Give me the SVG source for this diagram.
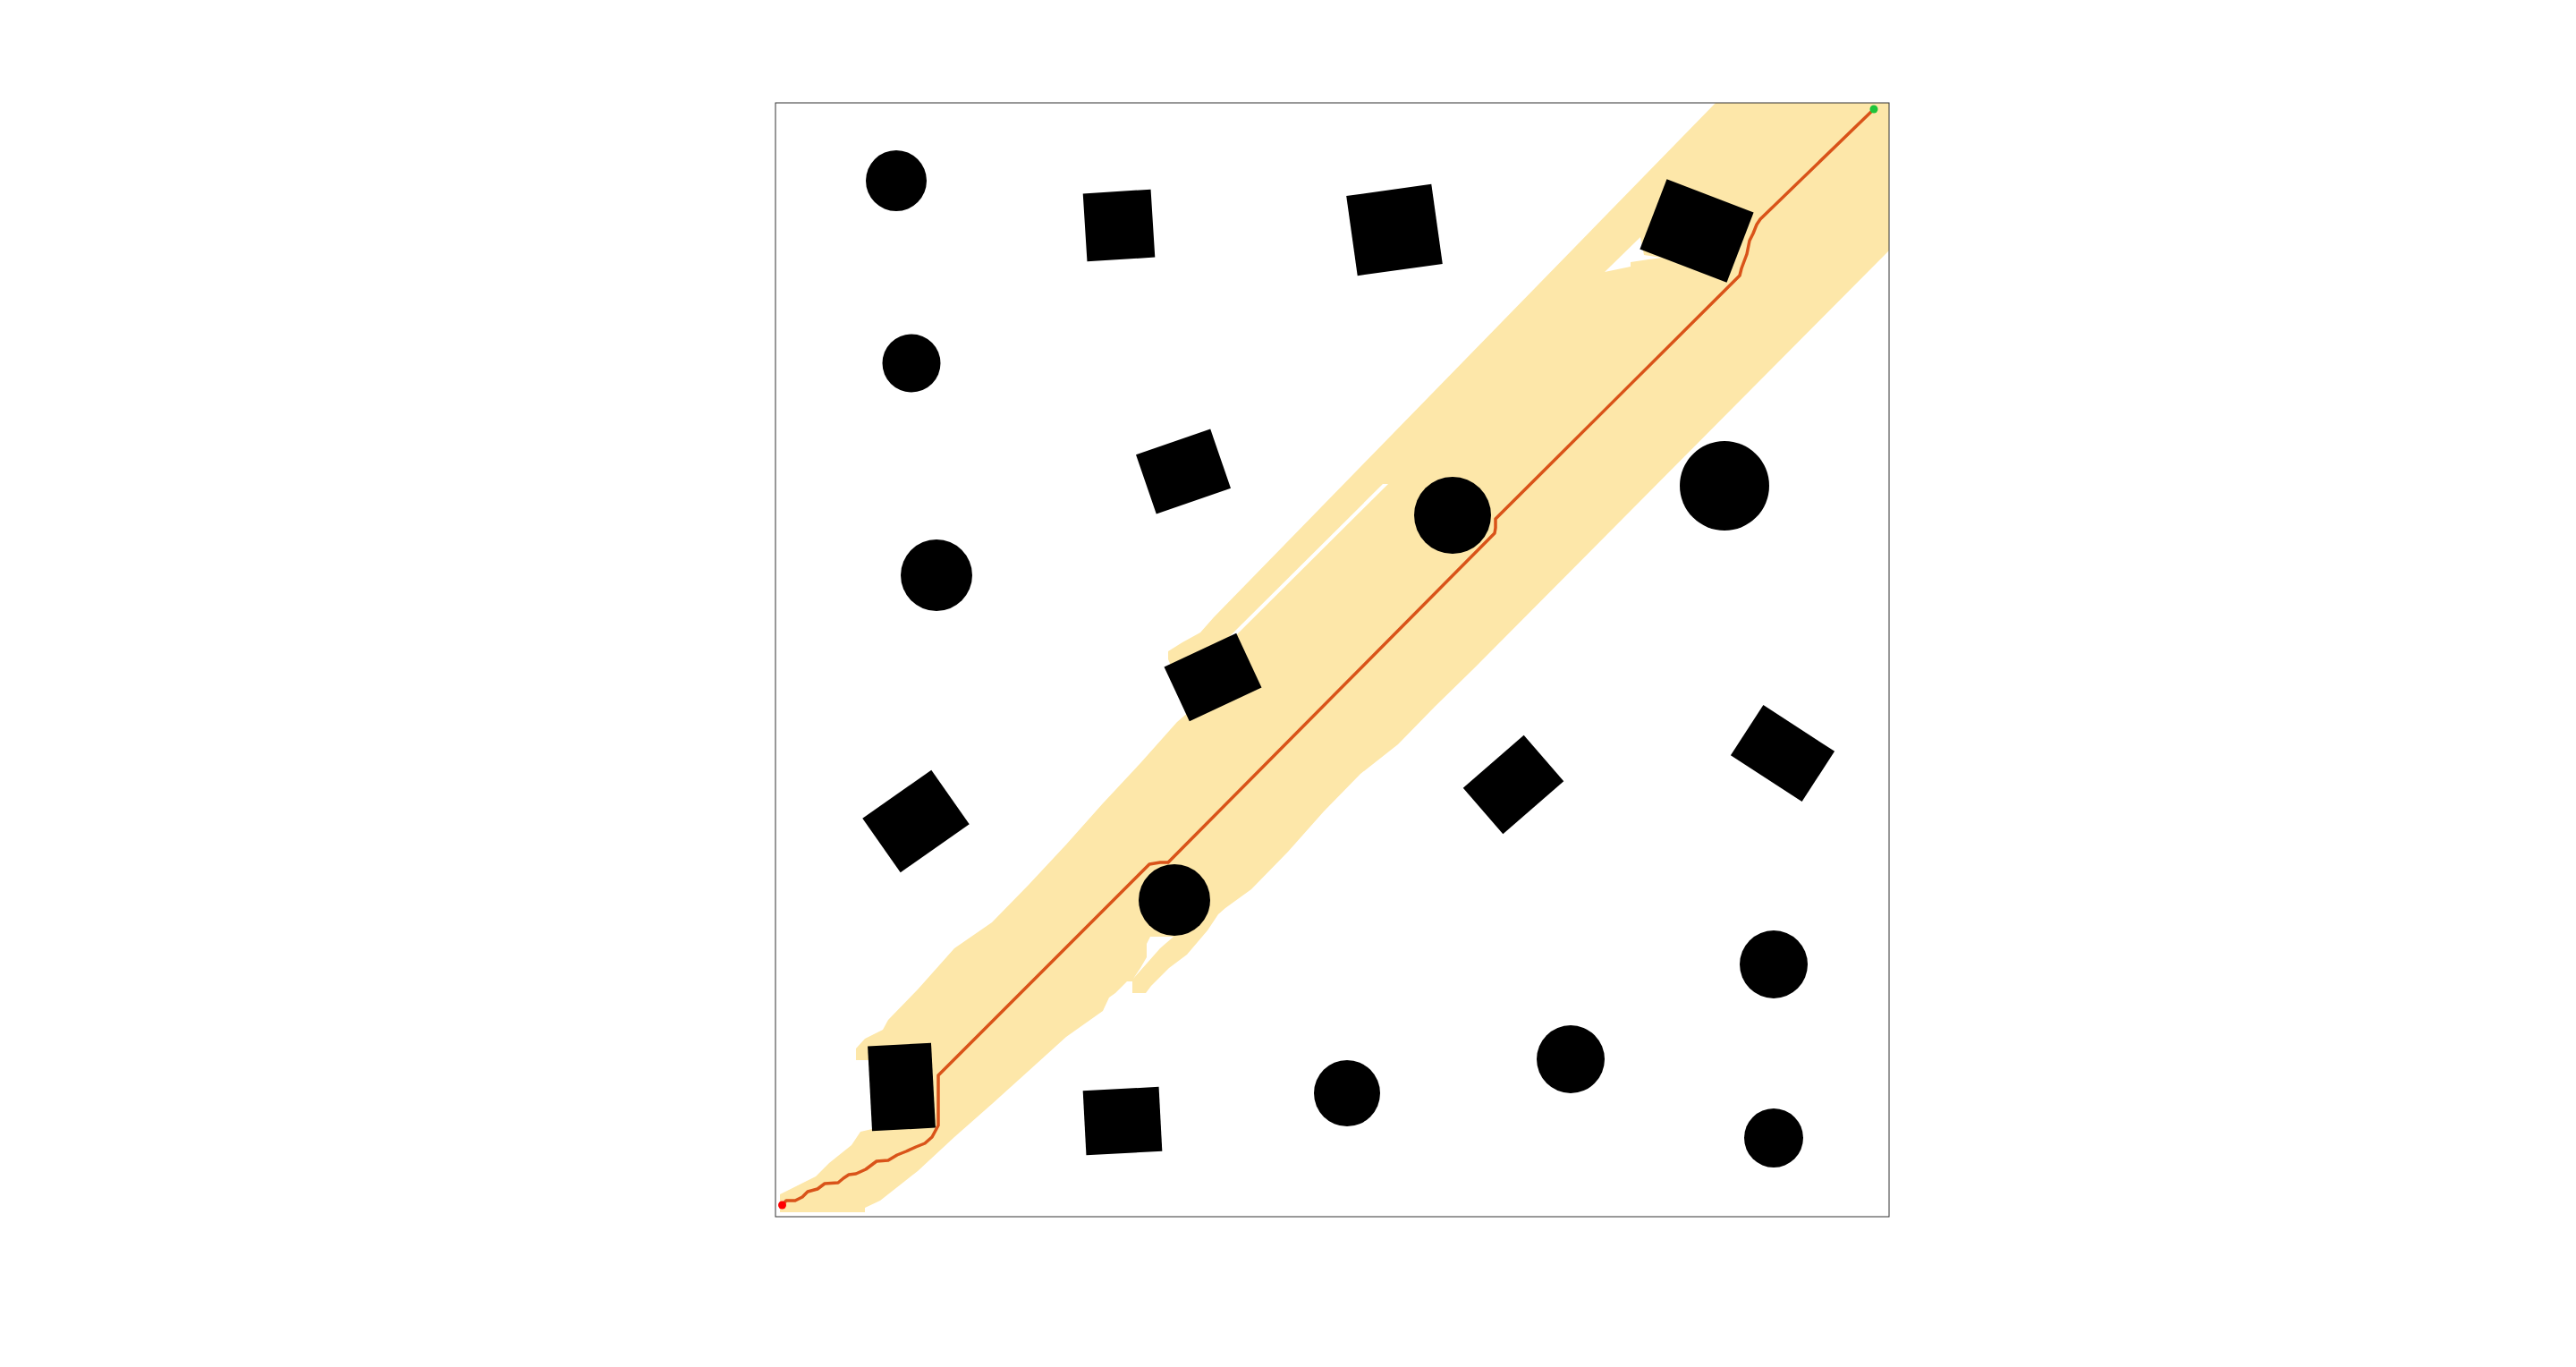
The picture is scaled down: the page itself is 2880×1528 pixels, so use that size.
<svg xmlns="http://www.w3.org/2000/svg" width="2880" height="1528" viewBox="0 0 2880 1528">
<style>
.obs{fill:#000}
.band{fill:#fde7a9}
.hole{fill:#fff}
.path{fill:none;stroke:#d95319;stroke-width:3.5;stroke-linejoin:round;stroke-linecap:round}
</style>
<rect width="2880" height="1528" fill="#fff"/>
<g id="explored">
<polygon class="band" points="1918,115 2112,115 2112,280 1655,740 1646,749 1604,790 1563,832 1521,865 1480,907 1440,952 1399,994 1370,1015 1362,1022 1350,1040 1327,1067 1307,1082 1287,1102 1281,1110 1266,1110 1266,1097 1260,1097 1247,1110 1240,1115 1233,1130 1192,1159 1150,1197 1109,1234 1067,1271 1026,1309 984,1342 967,1350 967,1355 872,1355 872,1335 882,1330 892,1325 902,1320 912,1315 922,1305 927,1300 952,1280 962,1265 975,1262 975,1185 957,1185 957,1172 967,1161 987,1151 993,1140 1026,1106 1067,1060 1109,1031 1150,989 1192,944 1233,898 1275,853 1316,807 1330,795 1310,746 1306,737 1306,728 1322,718 1342,707 1357,690"/>
<polygon class="hole" points="1546,541 1552,541 1380,712 1374,712"/>
<polygon class="hole" points="1794,304 1834,265 1838,285 1858,288 1843,290 1823,293 1823,298"/>
<polygon class="hole" points="1286,1047 1312,1047 1297,1060 1282,1077 1267,1094 1275,1082 1282,1070 1282,1055"/>
</g>
<g id="obstacles">
<circle id="obs-c1" class="obs" cx="1002" cy="202" r="34"/>
<circle id="obs-c2" class="obs" cx="1019" cy="406" r="32.5"/>
<circle id="obs-c3" class="obs" cx="1047" cy="643" r="40"/>
<circle id="obs-c4" class="obs" cx="1624" cy="576" r="43"/>
<circle id="obs-c5" class="obs" cx="1928" cy="543" r="50"/>
<circle id="obs-c6" class="obs" cx="1313" cy="1006" r="40"/>
<circle id="obs-c7" class="obs" cx="1506" cy="1222" r="37"/>
<circle id="obs-c8" class="obs" cx="1756" cy="1184" r="38"/>
<circle id="obs-c9" class="obs" cx="1983" cy="1078" r="38"/>
<circle id="obs-c10" class="obs" cx="1983" cy="1272" r="33"/>
<g id="obs-r1" transform="translate(1251,252) rotate(-3.6)"><rect class="obs" x="-38" y="-38" width="76" height="76"/></g>
<g id="obs-r2" transform="translate(1323,527) rotate(-19)"><rect class="obs" x="-44" y="-35" width="88" height="70"/></g>
<g id="obs-r3" transform="translate(1356,757) rotate(-25)"><rect class="obs" x="-44.5" y="-33.5" width="89" height="67"/></g>
<g id="obs-r4" transform="translate(1024,918) rotate(-35)"><rect class="obs" x="-47" y="-37" width="94" height="74"/></g>
<g id="obs-r5" transform="translate(1008,1215) rotate(-3)"><rect class="obs" x="-35.5" y="-47.5" width="71" height="95"/></g>
<g id="obs-r6" transform="translate(1255,1253) rotate(-3)"><rect class="obs" x="-42.5" y="-36" width="85" height="72"/></g>
<g id="obs-r7" transform="translate(1692,877) rotate(-41)"><rect class="obs" x="-45" y="-34" width="90" height="68"/></g>
<g id="obs-r8" transform="translate(1993,842) rotate(33)"><rect class="obs" x="-47.5" y="-33.5" width="95" height="67"/></g>
<g id="obs-r9" transform="translate(1559,257) rotate(-8)"><rect class="obs" x="-48" y="-45" width="96" height="90"/></g>
<g id="obs-r10" transform="translate(1897,258) rotate(21)"><rect class="obs" x="-52" y="-42" width="104" height="84"/></g>
</g>
<g id="connectors">
<polyline class="path" points="874.5,1347 879,1342 889,1342 897,1338 903,1332 914,1329 922,1323 937,1322 943,1317 949,1313 957,1312 968,1307 980,1298 993,1297 1003,1291 1013,1287 1024,1282 1034,1278 1042,1271 1049,1258 1049,1202 1285,966 1297,964 1306,964 1671,596 1672,590 1672,580 1945,308 1947,300 1953,284 1956,269 1960,261 1964,251 1968,245 2095,122"/>
</g>
<g id="start"><circle cx="874.5" cy="1347" r="4.5" fill="#ff0000"/></g>
<g id="goal"><circle cx="2095" cy="122" r="4.5" fill="#1fc43a"/></g>
<rect id="frame" x="867" y="115" width="1245" height="1245" fill="none" stroke="#333" stroke-width="1"/>
</svg>
